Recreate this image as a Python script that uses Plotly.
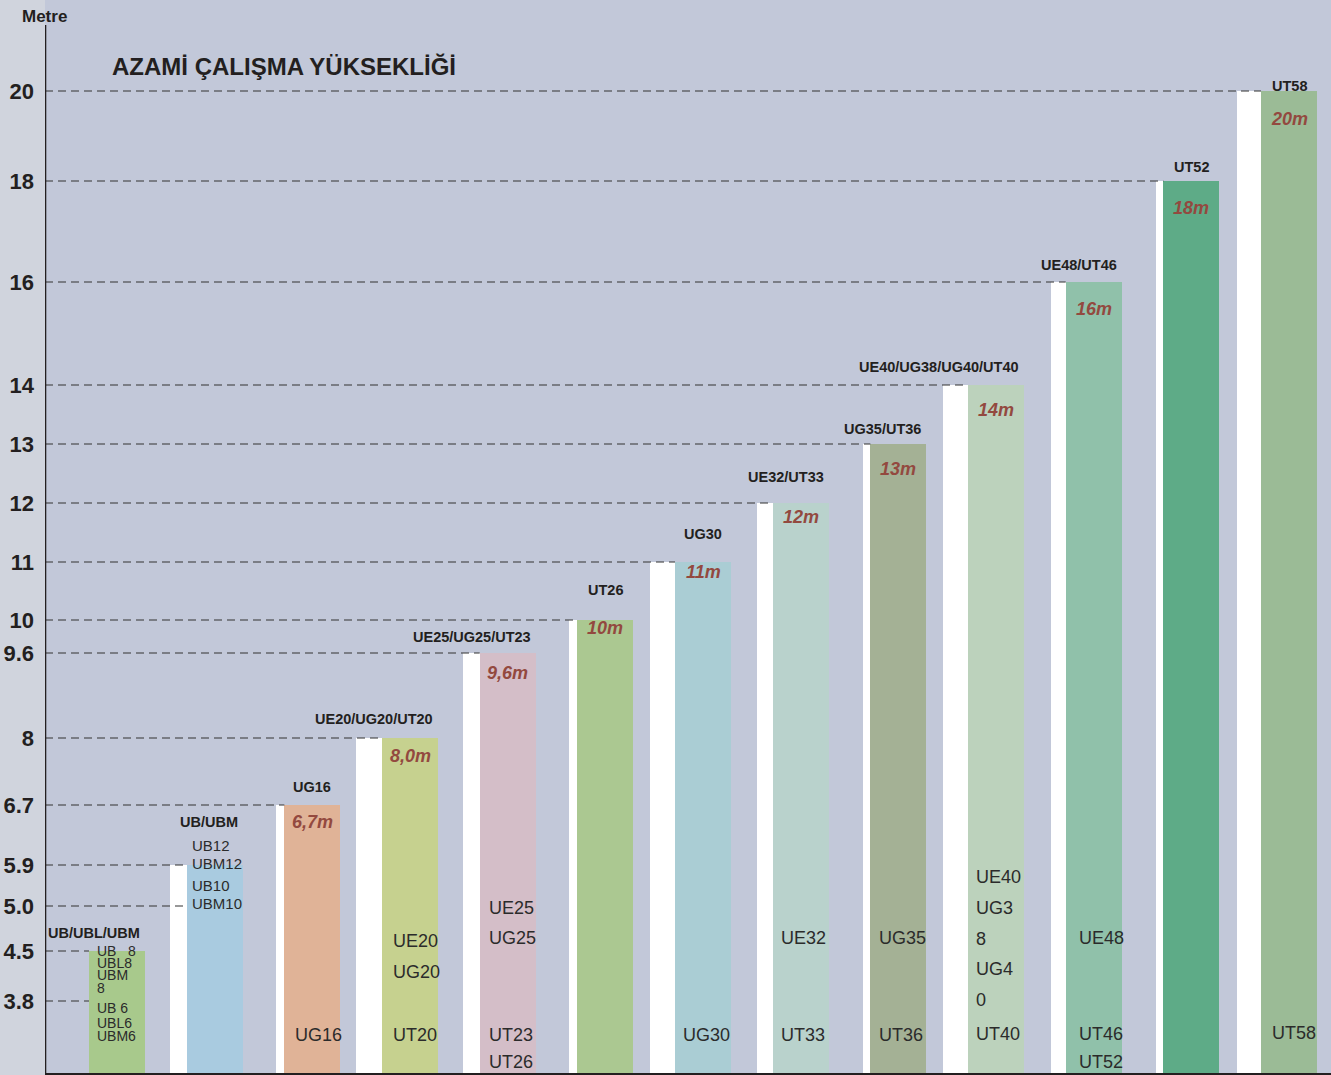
import numpy as np
import plotly.graph_objects as go

# ---------------- data ----------------
GROUP_LABELS = ["UB/UBL/UBM", "UB/UBM", "UG16", "UE20/UG20/UT20", "UE25/UG25/UT23",
                "UT26", "UG30", "UE32/UT33", "UG35/UT36", "UE40/UG38/UG40/UT40",
                "UE48/UT46", "UT52", "UT58"]
HEIGHTS_M = [4.5, 5.9, 6.7, 8.0, 9.6, 10, 11, 12, 13, 14, 16, 18, 20]
HEIGHT_TEXT = ["", "", "6,7m", "8,0m", "9,6m", "10m", "11m", "12m", "13m", "14m",
               "16m", "18m", "20m"]
TICK_VALUES = [3.8, 4.5, 5.0, 5.9, 6.7, 8, 9.6, 10, 11, 12, 13, 14, 16, 18, 20]
TICK_TEXT = ["3.8", "4.5", "5.0", "5.9", "6.7", "8", "9.6", "10", "11", "12", "13",
             "14", "16", "18", "20"]
MODEL_TEXT = [
    ["UB   8", "UBL8", "UBM", "8", "UB 6", "UBL6", "UBM6"],
    ["UB12", "UBM12", "UB10", "UBM10"],
    ["UG16"],
    ["UE20", "UG20", "UT20"],
    ["UE25", "UG25", "UT23", "UT26"],
    [],
    ["UG30"],
    ["UE32", "UT33"],
    ["UG35", "UT36"],
    ["UE40", "UG3", "8", "UG4", "0", "UT40"],
    ["UE48", "UT46", "UT52"],
    [],
    ["UT58"],
]
Y_TITLE = "Metre"
CHART_TITLE = "AZAMİ ÇALIŞMA YÜKSEKLİĞİ"

# ---------------- style ----------------
W, H = 1331, 1075
ML = 45
# nonlinear axis: pixel (from top) where each tick value sits
SCALE_PX = [1001, 951, 906, 865, 805, 738, 653, 620, 562, 503, 444, 385, 282, 181, 91]
BAR_COLORS = ["#a8c98c", "#a9cbe0", "#e0b397", "#c6d18f", "#d4bec8", "#abc891",
              "#aacdd4", "#b9d2cc", "#a4b195", "#bcd2bc", "#90c1aa", "#5eab87", "#9bbb96"]
WHITE_PX = [0, 17, 8, 26, 17, 8, 25, 16, 7, 25, 15, 7, 24]
UNIT_PX = 97.67
FIRST_CENTER_PX = 117
COL_W = 56 / UNIT_PX
LABEL_GAP = [18, 43, 18, 19, 16, 30, 28, 26, 15, 18, 17, 14, 5]
LABEL_ANCHOR = ["right", "right", "center", "right", "right", "center", "center",
                "right", "right", "right", "right", "center", "center"]
VALUE_DROP = [0, 0, 17, 18, 20, 8, 10, 14, 25, 25, 27, 27, 28]
MODEL_ROWS_PX = [[951, 963, 975, 988, 1008, 1023, 1036], [845, 863, 885, 903], [1035],
                 [941, 972, 1035], [908, 938, 1035, 1062], [], [1035], [938, 1035],
                 [938, 1035], [877, 908, 939, 969, 1000, 1034], [938, 1034, 1062], [],
                 [1033]]
MODEL_XSHIFT = [6, 3, 9, 9, 7, 0, 6, 6, 7, 6, 11, 0, 9]
FONT = "Liberation Sans, Arial, Helvetica, sans-serif"
NARROW = "Liberation Sans Narrow, Arial Narrow, Liberation Sans, Arial, sans-serif"
TXT = "#231f20"
RED = "#93493f"


def to_axis(v):
    return np.interp(v, TICK_VALUES, H - np.array(SCALE_PX, dtype=float))


n = len(HEIGHTS_M)
xs = np.arange(n)
tops = to_axis(HEIGHTS_M)
x0 = -(FIRST_CENTER_PX - ML) / UNIT_PX
x1 = x0 + (W - ML) / UNIT_PX

fig = go.Figure()

# white spacer bars
wx, wy, ww = [], [], []
for i in range(n):
    if WHITE_PX[i] > 0:
        w = WHITE_PX[i] / UNIT_PX
        wx.append(i - COL_W / 2 - w / 2)
        wy.append(tops[i])
        ww.append(w)
fig.add_trace(go.Bar(x=wx, y=wy, width=ww, base=0, marker=dict(color="white", line_width=0),
                     hoverinfo="skip", showlegend=False))
# coloured bars
fig.add_trace(go.Bar(x=xs, y=tops, width=COL_W, base=0,
                     marker=dict(color=BAR_COLORS, line_width=0),
                     customdata=HEIGHTS_M, hovertemplate="%{customdata} m<extra></extra>",
                     showlegend=False))

shapes = []
# dashed guide lines from axis to the first bar reaching each tick
for tv in TICK_VALUES:
    idx = next(i for i, h in enumerate(HEIGHTS_M) if h >= tv)
    shapes.append(dict(type="line", xref="x", yref="y", x0=x0, x1=idx - COL_W / 2,
                       y0=float(to_axis(tv)), y1=float(to_axis(tv)),
                       line=dict(color="#333333", width=1.1, dash="8px,5px")))
# axis line and baseline
shapes.append(dict(type="line", xref="x", yref="y", x0=x0 + 0.003, x1=x0 + 0.003,
                   y0=H - 25, y1=0, line=dict(color="#231f20", width=2)))
shapes.append(dict(type="line", xref="x", yref="y", x0=x0, x1=x1, y0=1, y1=1,
                   line=dict(color="#231f20", width=2)))

ann = []
for i in range(n):
    # group label above bar
    if LABEL_ANCHOR[i] == "right":
        ax, xsh = i + COL_W / 2, -3
    else:
        ax, xsh = i, 0
    ann.append(dict(x=ax, y=float(tops[i]) + LABEL_GAP[i], xref="x", yref="y",
                    text="<b>%s</b>" % GROUP_LABELS[i], showarrow=False,
                    xanchor=LABEL_ANCHOR[i], yanchor="middle", xshift=xsh,
                    font=dict(family=FONT, size=14.5, color=TXT)))
    # height label in bar
    if HEIGHT_TEXT[i]:
        ann.append(dict(x=i, y=float(tops[i]) - VALUE_DROP[i], xref="x", yref="y",
                        text="<b><i>%s</i></b>" % HEIGHT_TEXT[i], showarrow=False,
                        xanchor="center", yanchor="middle",
                        font=dict(family=FONT, size=18, color=RED)))
    # model names in bar
    small = i < 2
    for t, py in zip(MODEL_TEXT[i], MODEL_ROWS_PX[i]):
        ann.append(dict(x=i - COL_W / 2, y=H - py, xref="x", yref="y", text=t,
                        showarrow=False, xanchor="left", yanchor="middle",
                        xshift=MODEL_XSHIFT[i],
                        font=dict(family=FONT if small else NARROW,
                                  size=(14 if i == 0 else 15) if small else 18,
                                  color="#2b2b2b")))

ann.append(dict(x=(20 - ML) / (W - ML), y=H - 16, xref="paper", yref="y",
                text="<b>%s</b>" % Y_TITLE, showarrow=False, xanchor="left",
                yanchor="middle", font=dict(family=FONT, size=17, color=TXT)))
ann.append(dict(x=(110 - ML) / (W - ML), y=H - 66, xref="paper", yref="y",
                text="<b>%s</b>" % CHART_TITLE, showarrow=False, xanchor="left",
                yanchor="middle", font=dict(family=FONT, size=24, color=TXT)))

fig.update_layout(
    width=W, height=H, margin=dict(l=ML, r=0, t=0, b=0),
    paper_bgcolor="#d0d4dd", plot_bgcolor="#c2c8d9",
    barmode="overlay", bargap=0,
    xaxis=dict(range=[x0, x1], visible=False, fixedrange=True),
    yaxis=dict(range=[0, H], tickvals=[float(v) for v in to_axis(TICK_VALUES)],
               ticktext=["<b>%s</b>" % t for t in TICK_TEXT], showgrid=False,
               zeroline=False, showline=False, ticks="", ticklabelstandoff=10,
               tickfont=dict(family=FONT, size=22, color=TXT), fixedrange=True),
    shapes=shapes, annotations=ann, showlegend=False,
)

fig.write_html("out.html", config={"displayModeBar": False},
               post_script="document.body.style.margin='0';document.body.style.overflow='hidden';")
